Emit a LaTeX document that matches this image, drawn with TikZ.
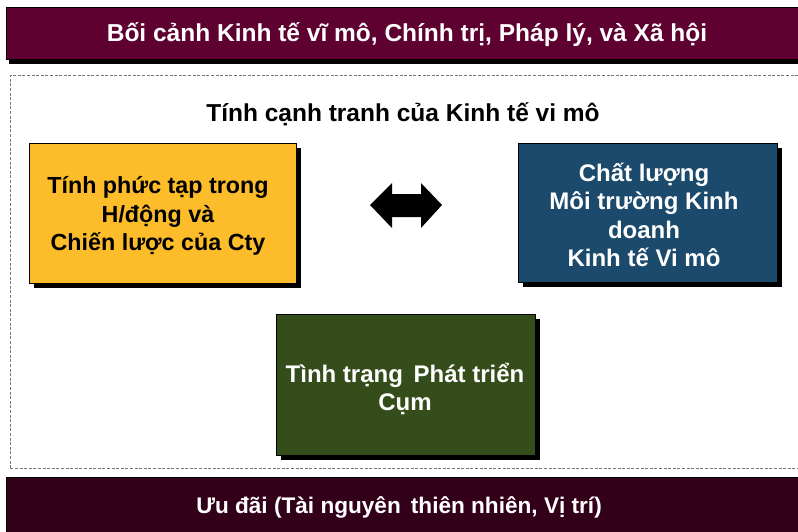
\documentclass[tikz,border=0pt]{standalone}
\usepackage{fontspec}
\setmainfont{Liberation Sans}
\usetikzlibrary{shadows}
\definecolor{topbar}{RGB}{94,0,48}
\definecolor{botbar}{RGB}{50,0,25}
\definecolor{yel}{RGB}{253,188,42}
\definecolor{blu}{RGB}{27,74,108}
\definecolor{grn}{RGB}{52,77,26}
\definecolor{dashgray}{RGB}{120,120,120}
\begin{document}
\begin{tikzpicture}[x=1pt,y=-1pt,
  barbox/.style={anchor=north west, inner sep=0pt, draw=black, line width=0.5pt},
  mainbox/.style={anchor=north west, draw=black, line width=0.6pt, inner sep=0pt,
    drop shadow={shadow xshift=5pt, shadow yshift=-5pt, fill=black, opacity=1}},
  boxtext/.style={align=center, font=\bfseries\fontsize{24}{28.5}\selectfont},
]
\useasboundingbox (0,0) rectangle (798,531);
% dashed frame
\node[draw=dashgray, dash pattern=on 3pt off 1.6pt, line width=0.6pt, anchor=north west,
  minimum width=800pt, minimum height=393pt, inner sep=0pt] (frame) at (10,75) {};
% top bar
\fill[black] (9,11) rectangle (805,64);
\node[barbox, fill=topbar, minimum width=800pt, minimum height=52pt] (top) at (6,7) {};
\node[text=white, font=\bfseries\fontsize{24.5}{28}\selectfont] (toptext) at (407,35) {Bối cảnh Kinh tế vĩ mô, Chính trị, Pháp lý, và Xã hội};
% bottom bar
\node[barbox, fill=botbar, minimum width=800pt, minimum height=60pt] (bot) at (6,477) {};
\node[text=white, font=\bfseries\fontsize{22.6}{28}\selectfont] (bottext) at (399,507) {Ưu đãi (Tài nguyên\, thiên nhiên, Vị trí)};
% title
\node[font=\bfseries\fontsize{24.5}{28}\selectfont] (title) at (403,114) {Tính cạnh tranh của Kinh tế vi mô};
% boxes
\node[mainbox, fill=yel, minimum width=267pt, minimum height=140pt] (firm) at (29,143) {};
\node[boxtext, font=\bfseries\fontsize{23.3}{28.5}\selectfont, text=black] (firmtext) at (158,216) {Tính phức tạp trong\\H/động và\\Chiến lược của Cty};
\node[mainbox, fill=blu, minimum width=259pt, minimum height=139pt] (env) at (518,143) {};
\node[boxtext, text=white] (envtext) at (644,215) {Chất lượng\\Môi trường Kinh\\doanh\\Kinh tế Vi mô};
\node[mainbox, fill=grn, minimum width=259pt, minimum height=141pt] (clu) at (276,314) {};
\node[boxtext, text=white] (clutext) at (405,389) {Tình trạng\, Phát triển\\Cụm};
% double arrow
\fill[black] (370,205) -- (392,183) -- (392,194) -- (421,194) -- (421,183) -- (442,205)
  -- (421,228) -- (421,217) -- (392,217) -- (392,228) -- cycle;
\end{tikzpicture}
\end{document}
